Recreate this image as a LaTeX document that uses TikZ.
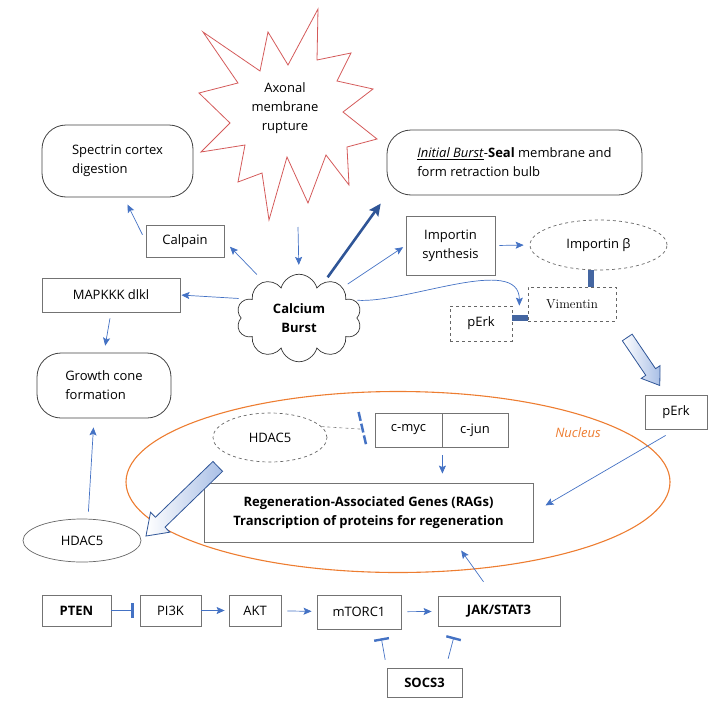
\documentclass[tikz,border=0pt]{standalone}
\usepackage{fontspec}
\setmainfont{Open Sans}
\newfontfamily\lmserif{Latin Modern Roman}
\usetikzlibrary{positioning,arrows.meta,calc,shapes.geometric,shapes.symbols,shapes.arrows}
\definecolor{linkblue}{HTML}{4472C4}
\definecolor{deepblue}{HTML}{2F5597}
\definecolor{burstred}{HTML}{D45A5A}
\definecolor{nucorange}{HTML}{ED7D31}
\definecolor{fatfill}{HTML}{A9BFE6}
\tikzset{
  boxp/.style={draw=black!55, line width=0.8pt, align=center, inner sep=2pt},
  boxr/.style={draw=black!75, line width=0.8pt, rounded corners=24pt, align=left, inner sep=2pt},
  boxd/.style={draw=black!60, dashed, line width=0.7pt, align=center, inner sep=2pt},
  elld/.style={ellipse, draw=black!60, dashed, line width=0.7pt, inner sep=1pt},
  flow/.style={-{Stealth[length=8pt, width=7pt, inset=1.5pt]}, line width=0.7pt, draw=linkblue},
  bigflow/.style={-{Stealth[length=12pt, width=11pt, inset=2pt]}, line width=2.6pt, draw=deepblue},
  inhib/.style={-{Bar[width=15pt, line width=2.4pt]}, line width=0.7pt, draw=linkblue},
  blockbar/.style={line width=6pt, draw=deepblue!90},
  fatarr/.style={single arrow, draw=deepblue, line width=0.8pt, left color=white, right color=fatfill,
    inner sep=5.5pt, single arrow head extend=5.5pt, single arrow tip angle=70, sloped, allow upside down},
  burst/.style={draw=burstred, line width=0.8pt},
}
\begin{document}
\fontsize{13}{19}\selectfont
\begin{tikzpicture}[x=1pt, y=-1pt]
  \useasboundingbox (0,0) rectangle (717,712);
  % rupture and calcium
  \draw[burst] (318,9) -- (317,60) -- (351,53) -- (337,81) -- (373,89) -- (343,112) -- (377,139)
    -- (347,147) -- (349,185) -- (326,155) -- (308,203) -- (287,157) -- (269,220) -- (262,173)
    -- (238,182) -- (245,145) -- (201,152) -- (230,123) -- (199,93) -- (238,83) -- (203,32)
    -- (260,71) -- (268,32) -- (288,65) -- cycle;
  \node[align=center] (rupture) at (285,108) {Axonal\\membrane\\rupture};
  \coordinate (rupbot) at (298,227);
  \node[cloud, cloud puffs=10, draw=black!80, line width=0.7pt, align=center, font=\bfseries,
    minimum width=125pt, minimum height=81pt, inner sep=0pt] (calcium) at (299,318) {Calcium\\Burst};
  % left side
  \node[boxr, minimum width=151pt, minimum height=72pt] (spectrin) at (117.5,161) {Spectrin cortex\\digestion};
  \node[boxp, minimum width=78pt, minimum height=32pt] (calpain) at (185,241) {Calpain};
  \node[boxp, minimum width=138pt, minimum height=34pt] (mapkkk) at (111,295) {MAPKKK dlkl};
  \node[boxr, minimum width=134pt, minimum height=65pt] (growth) at (104,385.5) {Growth cone\\formation};
  \node[ellipse, draw=black!60, line width=0.7pt, minimum width=118pt, minimum height=43pt] (hdacout) at (82,540.5) {HDAC5};
  % right side
  \node[boxr, minimum width=255pt, minimum height=65pt] (seal) at (514.5,162.5)
    {\underline{\textit{Initial Burst}}-\textbf{Seal} membrane and\\form retraction bulb};
  \node[boxp, minimum width=89pt, minimum height=59pt] (impsyn) at (450.5,245.5) {Importin\\synthesis};
  \node[elld, minimum width=137pt, minimum height=50pt] (impb) at (598.5,245) {Importin β};
  \node[boxd, minimum width=88pt, minimum height=34pt, font=\lmserif] (vim) at (572,304) {Vimentin};
  \node[boxd, minimum width=62pt, minimum height=35pt] (perka) at (481,323.5) {pErk};
  \node[boxp, minimum width=62pt, minimum height=34pt] (perkb) at (676,412) {pErk};
  % nucleus
  \node[ellipse, draw=nucorange, line width=1.1pt, minimum width=544pt, minimum height=181pt] (nucleus) at (398,482) {};
  \node[font=\itshape, text=nucorange] (nuclab) at (578,433) {Nucleus};
  \node[elld, minimum width=114pt, minimum height=49pt] (hdacin) at (270,437.5) {HDAC5};
  \node[boxp, minimum width=67pt, minimum height=34pt] (cmyc) at (408.5,430) {c-myc};
  \node[boxp, minimum width=66pt, minimum height=34pt] (cjun) at (475,430) {c-jun};
  \node[boxp, minimum width=329pt, minimum height=59pt, font=\bfseries] (rags) at (368.5,512.5)
    {Regeneration-Associated Genes (RAGs)\\Transcription of proteins for regeneration};
  % bottom row
  \node[boxp, minimum width=69pt, minimum height=31pt, font=\bfseries] (pten) at (76.5,610.5) {PTEN};
  \node[boxp, minimum width=61pt, minimum height=31pt] (pi3k) at (170.5,610.5) {PI3K};
  \node[boxp, minimum width=52pt, minimum height=31pt] (akt) at (255,610.5) {AKT};
  \node[boxp, minimum width=84pt, minimum height=34pt] (mtorc) at (359,612) {mTORC1};
  \node[boxp, minimum width=122pt, minimum height=30pt, font=\bfseries] (jak) at (499,611) {JAK/STAT3};
  \node[boxp, minimum width=75pt, minimum height=29pt, font=\bfseries] (socs) at (424.5,682.5) {SOCS3};
  % connectors around the burst
  \draw[flow, shorten >=9pt] (rupbot) -- (calcium.north);
  \draw[flow, shorten <=10pt, shorten >=8pt] (calcium) -- (calpain.east);
  \draw[flow, shorten <=7pt, shorten >=8pt] (calpain.west) -- (spectrin.-80);
  \draw[flow, shorten <=8pt, shorten >=1pt] (calcium.160) -- (mapkkk.east);
  \draw[flow, shorten <=6pt, shorten >=7pt] (mapkkk.south) -- (growth.north);
  \draw[bigflow, shorten <=6pt, shorten >=10pt] (calcium.55) -- (seal.south west);
  \draw[flow, shorten <=6pt, shorten >=3pt] (calcium.35) -- (impsyn.west);
  \draw[flow, shorten <=4pt, shorten >=6pt] (impsyn.east) -- (impb.west);
  \draw[flow, shorten <=3pt] (calcium.18) to[out=-4, in=90, looseness=0.8] ([xshift=7pt]perka.north east);
  \draw[blockbar] ([xshift=-8pt]impb.south) -- ([xshift=-8pt]impb.south |- vim.north);
  \draw[blockbar] ([yshift=5.5pt]perka.east) -- ([yshift=5.5pt]perka.east -| vim.west);
  \path (vim.south east) -- (perkb.120) node[fatarr, pos=0.5, minimum height=58pt] (fata) {};
  % into the nucleus
  \draw[dashed, draw=black!50, line width=0.6pt, shorten >=13pt] (hdacin.12) -- (cmyc.west);
  \draw[draw=linkblue, line width=2.5pt, dash pattern=on 9pt off 3pt]
    ([shift={(-16pt,18pt)}]cmyc.west) -- ([shift={(-8pt,-17pt)}]cmyc.west);
  \draw[flow, shorten <=8pt, shorten >=9pt] (cmyc.south east) -- (cmyc.south east |- rags.north);
  \draw[flow, shorten <=12pt, shorten >=14pt] (perkb.south) -- (rags.east);
  \path (hdacin.south west) -- (hdacout.east) node[fatarr, pos=0.5, minimum height=100pt,
    inner sep=6.5pt, single arrow head extend=7pt] (fatb) {};
  \draw[flow, shorten <=7pt, shorten >=9pt] ([xshift=6pt]hdacout.north) -- ([xshift=-10pt]growth.south);
  % signalling row
  \draw[inhib, shorten >=6pt] (pten) -- (pi3k);
  \draw[flow, shorten >=4pt] (pi3k) -- (akt);
  \draw[flow, shorten <=6pt, shorten >=5pt] (akt) -- (mtorc);
  \draw[flow, shorten <=6pt, shorten >=6pt] (mtorc) -- (jak);
  \draw[inhib, shorten <=8pt, shorten >=9pt] (socs.north west) -- (mtorc.-40);
  \draw[inhib, shorten <=9pt, shorten >=11pt] (socs.35) -- (jak.-160);
  \draw[flow, shorten <=17pt, shorten >=10pt] (jak.110) -- (rags.-19);
\end{tikzpicture}
\end{document}
